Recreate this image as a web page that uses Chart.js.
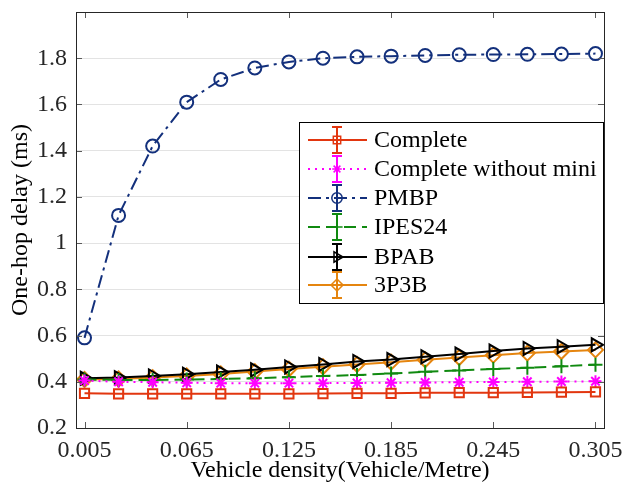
<!DOCTYPE html>
<html>
<head>
<meta charset="utf-8">
<script src="https://cdn.jsdelivr.net/npm/chart.js@4.4.1/dist/chart.umd.min.js"></script>
<style>
html,body{margin:0;padding:0;background:#fff;}
#wrap{width:622px;height:487px;}
</style>
</head>
<body>
<div id="wrap"><canvas id="c" width="622" height="487"></canvas></div>
<script>
const density = [0.005,0.025,0.045,0.065,0.085,0.105,0.125,0.145,0.165,0.185,0.205,0.225,0.245,0.265,0.285,0.305];
const xTicks = [0.005,0.065,0.125,0.185,0.245,0.305];
const yTicks = [0.2,0.4,0.6,0.8,1,1.2,1.4,1.6,1.8];
const complete = [0.350,0.348,0.348,0.348,0.348,0.348,0.348,0.349,0.350,0.350,0.352,0.353,0.353,0.354,0.355,0.356];
const completeNoMini = [0.405,0.400,0.398,0.396,0.394,0.394,0.394,0.394,0.395,0.396,0.397,0.398,0.399,0.400,0.401,0.402];
const pmbp = [0.590,1.120,1.420,1.610,1.708,1.758,1.784,1.800,1.806,1.809,1.812,1.815,1.816,1.817,1.818,1.820];
const ipes24 = [0.410,0.408,0.408,0.410,0.412,0.415,0.420,0.425,0.429,0.436,0.443,0.449,0.455,0.461,0.467,0.474];
const bpab = [0.415,0.418,0.425,0.433,0.442,0.452,0.464,0.475,0.488,0.496,0.508,0.520,0.533,0.544,0.552,0.560];
const p3b3 = [0.410,0.412,0.418,0.425,0.434,0.444,0.455,0.465,0.475,0.485,0.495,0.505,0.515,0.524,0.531,0.538];
const labels = ["Complete","Complete without mini","PMBP","IPES24","BPAB","3P3B"];

const SERIF = '"Liberation Serif","Times New Roman",serif';
const toXY = arr => arr.map((v,i)=>({x:density[i],y:v}));

const styles = [
  {color:'#e2360f', dash:[], style:'rect', r:6.5, rot:0},
  {color:'#ff00ff', dash:[2,5], style:'star', r:6, rot:0},
  {color:'#13307c', dash:[13,5,3,5], style:'circle', r:6.5, rot:0},
  {color:'#108a10', dash:[12,6], style:'cross', r:7, rot:0},
  {color:'#000000', dash:[], style:'triangle', r:7.5, rot:90},
  {color:'#e5850f', dash:[], style:'rectRot', r:7.5, rot:0}
];
const series = [complete, completeNoMini, pmbp, ipes24, bpab, p3b3];

const datasets = series.map((s,i)=>({
  label: labels[i],
  data: toXY(s),
  borderColor: styles[i].color,
  backgroundColor: 'rgba(0,0,0,0)',
  borderWidth: 2,
  borderDash: styles[i].dash,
  pointStyle: styles[i].style,
  pointRadius: styles[i].r,
  pointRotation: styles[i].rot,
  pointBorderColor: styles[i].color,
  pointBackgroundColor: 'rgba(0,0,0,0)',
  pointBorderWidth: 2,
  tension: 0
}));

const framePlugin = {
  id:'frame',
  afterDraw(chart){
    const {ctx, chartArea:a, scales} = chart;
    ctx.save();
    ctx.strokeStyle = '#5a5a5a';
    ctx.lineWidth = 1;
    ctx.beginPath();
    xTicks.forEach(t=>{
      const x = Math.round(scales.x.getPixelForValue(t))+0.5;
      ctx.moveTo(x,a.bottom); ctx.lineTo(x,a.bottom-6);
      ctx.moveTo(x,a.top); ctx.lineTo(x,a.top+6);
    });
    yTicks.forEach(t=>{
      const y = Math.round(scales.y.getPixelForValue(t))+0.5;
      ctx.moveTo(a.left,y); ctx.lineTo(a.left+6,y);
      ctx.moveTo(a.right,y); ctx.lineTo(a.right-6,y);
    });
    ctx.stroke();
    ctx.strokeStyle = '#262626';
    ctx.strokeRect(Math.round(a.left)+0.5, Math.round(a.top)+0.5, Math.round(a.right-a.left), Math.round(a.bottom-a.top));

    // legend
    const lx = 299, ly = 122, lw = 304, lh = 181;
    ctx.fillStyle = '#fff';
    ctx.fillRect(lx,ly,lw,lh);
    ctx.strokeStyle = '#000';
    ctx.lineWidth = 1;
    ctx.strokeRect(lx+0.5,ly+0.5,lw,lh);
    ctx.font = '24px ' + SERIF;
    ctx.textBaseline = 'middle';
    const rows = [140,169,198,227,257,285];
    rows.forEach((ry,i)=>{
      const st = styles[i];
      ctx.strokeStyle = st.color;
      ctx.lineWidth = 2;
      ctx.setLineDash(st.dash);
      ctx.beginPath(); ctx.moveTo(308,ry); ctx.lineTo(367,ry); ctx.stroke();
      ctx.setLineDash([]);
      ctx.beginPath();
      ctx.moveTo(337,ry-13); ctx.lineTo(337,ry+13);
      ctx.moveTo(332,ry-13); ctx.lineTo(342,ry-13);
      ctx.moveTo(332,ry+13); ctx.lineTo(342,ry+13);
      ctx.stroke();
      ctx.lineWidth = 1.5;
      ctx.fillStyle = 'rgba(0,0,0,0)';
      Chart.helpers.drawPoint(ctx,{pointStyle:st.style, rotation:st.rot, radius:st.r*0.8, borderWidth:1.5}, 337, ry);
      ctx.fillStyle = '#000';
      ctx.fillText(labels[i], 374, ry+1);
    });
    ctx.restore();
  }
};

new Chart(document.getElementById('c'), {
  type:'line',
  data:{datasets},
  options:{
    responsive:false,
    animation:false,
    layout:{padding:{top:12,right:18,left:0,bottom:0}},
    plugins:{legend:{display:false}, tooltip:{enabled:false}},
    scales:{
      x:{
        type:'linear', min:0, max:0.31,
        afterBuildTicks(s){ s.ticks = xTicks.map(v=>({value:v})); },
        afterFit(s){ s.height = 59; s.paddingLeft = 0; s.paddingRight = 0; },
        grid:{display:false, drawTicks:false},
        border:{display:false},
        ticks:{padding:8, color:'#262626', font:{family:SERIF,size:24}, maxRotation:0, autoSkip:false,
          callback:v=>v.toFixed(3)},
        title:{display:true, text:'Vehicle density(Vehicle/Metre)', color:'#000', font:{family:SERIF,size:24}, padding:{top:0,bottom:2}}
      },
      y:{
        type:'linear', min:0.2, max:2.0,
        afterBuildTicks(s){ s.ticks = yTicks.map(v=>({value:v})); },
        afterFit(s){ s.width = 76; s.paddingTop = 0; s.paddingBottom = 0; },
        grid:{color:'#e3e3e3', drawTicks:false, lineWidth:1},
        border:{display:false},
        ticks:{padding:9, color:'#262626', font:{family:SERIF,size:24},
          callback:v=>String(Number(v.toFixed(1)))},
        title:{display:true, text:'One-hop delay (ms)', color:'#000', font:{family:SERIF,size:24}, padding:{top:6,bottom:0}}
      }
    }
  },
  plugins:[framePlugin]
});
</script>
</body>
</html>
